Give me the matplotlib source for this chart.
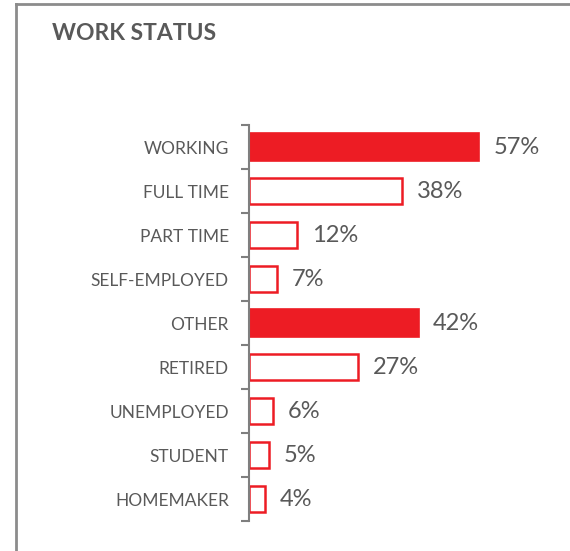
import matplotlib.pyplot as plt
from matplotlib.lines import Line2D

categories = ["WORKING", "FULL TIME", "PART TIME", "SELF-EMPLOYED", "OTHER",
              "RETIRED", "UNEMPLOYED", "STUDENT", "HOMEMAKER"]
values = [57, 38, 12, 7, 42, 27, 6, 5, 4]
isTotal = [True, False, False, False, True, False, False, False, False]

red = "#ED1C24"
textGray = "#595959"
axisGray = "#7F7F7F"

plt.rcParams['font.family'] = ['Lato', 'DejaVu Sans']

fig = plt.figure(figsize=(5.70, 5.51), dpi=100)
ax = fig.add_axes([249/570, 30/551, 302/570, 396/551])

positions = list(range(len(categories)))
for pos, val, total in zip(positions, values, isTotal):
    if total:
        ax.barh(pos, val, height=0.64, color=red, edgecolor=red, linewidth=1.2)
    else:
        ax.barh(pos, val, height=0.60, color="white", edgecolor=red, linewidth=1.8)
    ax.text(val + 3.6, pos, f"{val}%", va="center", ha="left",
            fontsize=17, color=textGray)

ax.set_xlim(0, 74.8)
ax.set_ylim(len(categories) - 0.5, -0.5)
ax.set_yticks(positions)
ax.set_yticklabels(categories, fontsize=12.5, color=textGray)
ax.set_yticks([p + 0.5 for p in range(-1, len(categories))], minor=True)
ax.tick_params(axis="y", which="major", length=0, pad=14.5)
ax.tick_params(axis="y", which="minor", length=6, width=1.5, color=axisGray)
ax.set_xticks([])
for side in ["top", "right", "bottom"]:
    ax.spines[side].set_visible(False)
ax.spines["left"].set_color(axisGray)
ax.spines["left"].set_linewidth(1.5)

fig.text(52/570, 1 - 33/551, "WORK STATUS", fontsize=16.5, fontweight="bold",
         color=textGray, va="center", ha="left")

# partial frame around the chart
fig.add_artist(Line2D([16/570, 16/570], [0, 1 - 4/551], transform=fig.transFigure,
                      color="#8C8C8C", linewidth=2))
fig.add_artist(Line2D([16/570, 1], [1 - 4/551, 1 - 4/551], transform=fig.transFigure,
                      color="#8C8C8C", linewidth=2))

fig.savefig("out.png", dpi=100)
